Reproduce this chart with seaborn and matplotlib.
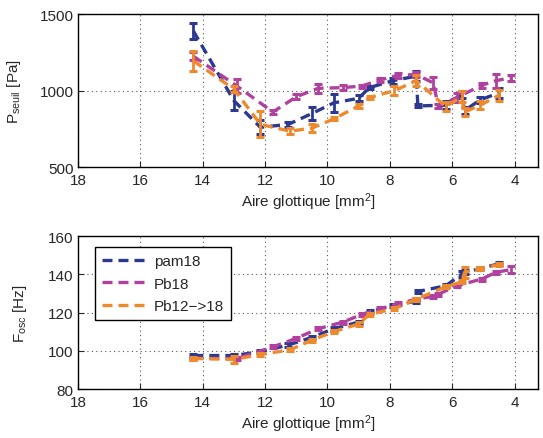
import matplotlib
matplotlib.use('Agg')
import matplotlib.pyplot as plt
import seaborn as sns

# pam18
pam_x = [14.3, 13.0, 12.15, 11.25, 10.5, 9.8, 9.0, 8.65, 7.9, 7.15, 7.1, 6.2, 5.7, 5.6, 5.1, 4.5]
pam_p = [1390, 935, 760, 780, 850, 920, 950, 1020, 1065, 1095, 900, 905, 975, 870, 940, 985]
pam_p_err = [55, 60, 45, 15, 45, 60, 20, 10, 20, 35, 10, 25, 20, 25, 20, 30]
pam_f = [97.5, 97.5, 99.5, 103, 107, 111.5, 115, 120.5, 123.5, 126, 131, 134, 140, 141, 143, 145.5]
pam_f_err = [0.8, 0.8, 0.8, 1, 0.8, 1, 0.8, 1, 0.8, 0.8, 1, 0.8, 1.5, 1, 0.8, 0.8]

# Pb18
pb_x = [14.3, 12.9, 11.75, 11.0, 10.3, 9.5, 8.9, 8.3, 7.75, 7.15, 6.6, 6.45, 5.85, 5.05, 4.6, 4.1]
pb_p = [1225, 1030, 860, 960, 1015, 1020, 1030, 1070, 1100, 1105, 1050, 900, 955, 1035, 1065, 1085]
pb_p_err = [25, 45, 15, 15, 30, 15, 10, 15, 15, 15, 40, 15, 30, 15, 45, 20]
pb_f = [96, 96, 102, 106.5, 111.5, 115, 119, 122, 124.5, 127, 128.5, 129.5, 134, 137.5, 141, 142.5]
pb_f_err = [0.8, 0.8, 0.8, 0.8, 0.8, 0.8, 0.8, 0.8, 0.8, 0.8, 0.8, 0.8, 0.8, 0.8, 0.8, 2]

# Pb12->18
org_x = [14.3, 13.0, 12.15, 11.2, 10.5, 9.8, 9.0, 8.65, 7.85, 7.15, 6.2, 5.7, 5.6, 5.1, 4.5]
org_p = [1195, 1010, 780, 735, 755, 815, 900, 955, 1000, 1065, 895, 960, 860, 905, 970]
org_p_err = [65, 20, 85, 20, 25, 10, 15, 10, 30, 35, 30, 35, 25, 25, 35]
org_f = [96, 95.5, 98, 100.5, 105.5, 110, 114, 119, 122, 127, 133.5, 136, 141, 143, 145]
org_f_err = [0.8, 2, 0.8, 0.8, 0.8, 0.8, 0.8, 0.8, 0.8, 0.8, 0.8, 0.8, 3, 0.8, 0.8]

colors = ['#2B3990', '#B0419E', '#EE8A2E']
names = ['pam18', 'Pb18', 'Pb12\u2212>18']

sns.set_style('ticks')
plt.rcParams['font.family'] = ['Liberation Sans', 'DejaVu Sans']
plt.rcParams['mathtext.default'] = 'regular'
plt.rcParams['font.size'] = 11

fig = plt.figure(figsize=(5.43, 4.39), dpi=100)
ax1 = fig.add_axes([0.1436, 0.617, 0.847, 0.3485])
ax2 = fig.add_axes([0.1436, 0.1116, 0.847, 0.3485])

series = [(pam_x, pam_p, pam_p_err, pam_f, pam_f_err),
          (pb_x, pb_p, pb_p_err, pb_f, pb_f_err),
          (org_x, org_p, org_p_err, org_f, org_f_err)]

for (x, p, pe, f, fe), c, n in zip(series, colors, names):
    sns.lineplot(x=x, y=p, ax=ax1, color=c, lw=2.4, sort=False, dashes=False,
                 linestyle=(0, (3, 1.8)))
    ax1.errorbar(x, p, yerr=pe, fmt='none', ecolor=c, elinewidth=2, capsize=3, capthick=2.2)
    sns.lineplot(x=x, y=f, ax=ax2, color=c, lw=2.4, sort=False, dashes=False,
                 linestyle=(0, (3, 1.8)), label=n)
    ax2.errorbar(x, f, yerr=fe, fmt='none', ecolor=c, elinewidth=2, capsize=3, capthick=2.2)

for ax in (ax1, ax2):
    ax.set_xlim(18, 3.25)
    ax.set_xticks([18, 16, 14, 12, 10, 8, 6, 4])
    ax.grid(True, linestyle=(0, (1, 3)), color='#555555', lw=0.8)
    ax.tick_params(direction='in', length=4, labelsize=11)
    ax.tick_params(axis='x', pad=4)
    ax.tick_params(axis='y', pad=3)
    for s in ax.spines.values():
        s.set_color('black')
        s.set_linewidth(1)
    ax.set_xlabel('Aire glottique [mm$^2$]', fontsize=11, labelpad=3)

ax1.set_ylim(500, 1500)
ax1.set_yticks([500, 1000, 1500])
ax1.set_ylabel('P$_{seuil}$ [Pa]', fontsize=11, labelpad=12)

ax2.set_ylim(80, 160)
ax2.set_yticks([80, 100, 120, 140, 160])
ax2.set_ylabel('F$_{osc}$ [Hz]', fontsize=11, labelpad=14)

leg = ax2.legend(loc='upper left', bbox_to_anchor=(0.02, 0.975), fancybox=False,
                 edgecolor='black', handlelength=2.8, fontsize=11, borderpad=0.45,
                 labelspacing=0.55, handletextpad=0.6, framealpha=1)
leg.get_frame().set_linewidth(1)

fig.savefig('out.png', dpi=100)
